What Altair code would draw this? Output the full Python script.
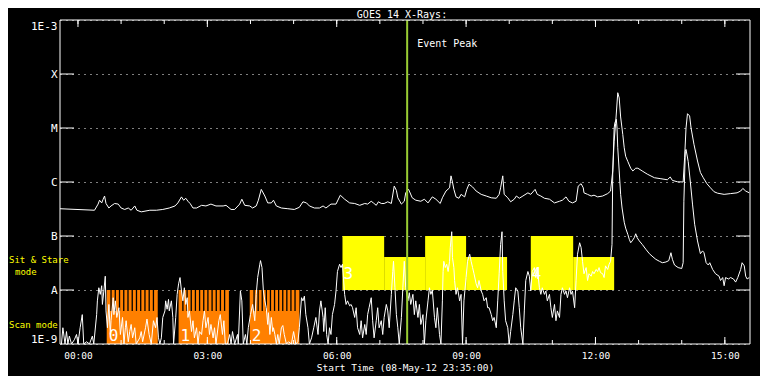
import altair as alt
import pandas as pd
import numpy as np

FONT = "DejaVu Sans Mono"
W, H = 690, 324
ORANGE = "#FF8000"
YELLOW = "#FFFF00"
GREEN = "#99CC33"

# ---- time in minutes from 2012-05-09 00:00 UT; flux in W/m^2 ----
long_t = [-25, 23, 28, 30, 33, 35, 37, 39, 43, 46, 51, 56, 60, 65, 70, 74, 79, 82, 88, 100,
          109, 118, 127, 135, 139, 144, 147, 150, 153, 156, 160, 165, 172, 178, 185, 192, 202, 206, 213, 218,
          225, 228, 232, 239, 243, 248, 251, 255, 260, 264, 269, 272, 276, 283, 292, 301, 308, 313, 318, 322,
          329, 336, 341, 345, 352, 359, 365, 371, 378, 385, 392, 399, 403, 408, 411, 415, 418, 422, 426, 431,
          436, 440, 443, 445, 450, 454, 456, 460, 461, 465, 470, 477, 482, 487, 493, 498, 504, 507, 512, 517,
          519, 521, 523, 526, 530, 533, 538, 541, 544, 549, 554, 561, 568, 575, 582, 586, 588, 591, 593, 598,
          602, 607, 610, 614, 619, 626, 630, 636, 639, 644, 649, 656, 663, 670, 674, 679, 683, 688, 693, 696,
          700, 703, 704, 709, 714, 718, 723, 730, 737, 741, 744, 746, 748, 751, 753, 755, 758, 760, 762, 765,
          769, 772, 776, 779, 785, 792, 802, 811, 820, 824, 827, 834, 842, 844, 846, 848, 851, 853, 857, 862,
          866, 870, 875, 880, 885, 890, 899, 908, 917, 922, 925, 929, 934]
long_flux = [3.2e-7, 3.0e-7, 3.9e-7, 4.6e-7, 4.1e-7, 4.8e-7, 5.5e-7, 4.0e-7, 3.3e-7, 3.6e-7,
             4.0e-7, 3.9e-7, 3.3e-7, 3.1e-7, 3.3e-7, 3.0e-7, 3.6e-7, 3.0e-7, 2.8e-7, 3.0e-7,
             3.0e-7, 3.1e-7, 3.3e-7, 3.6e-7, 4.1e-7, 5.3e-7, 4.6e-7, 5.0e-7, 4.4e-7, 4.0e-7,
             3.3e-7, 3.3e-7, 3.7e-7, 3.6e-7, 3.9e-7, 3.6e-7, 3.6e-7, 3.7e-7, 3.1e-7, 3.1e-7,
             3.9e-7, 4.8e-7, 3.7e-7, 3.6e-7, 3.3e-7, 3.6e-7, 4.6e-7, 7.3e-7, 5.5e-7, 4.1e-7,
             4.1e-7, 4.6e-7, 3.6e-7, 3.3e-7, 3.2e-7, 3.1e-7, 3.4e-7, 4.3e-7, 4.1e-7, 3.6e-7,
             3.3e-7, 3.3e-7, 3.6e-7, 3.3e-7, 3.9e-7, 3.9e-7, 5.7e-7, 4.8e-7, 4.1e-7, 4.0e-7,
             3.7e-7, 4.0e-7, 3.9e-7, 4.4e-7, 4.1e-7, 3.7e-7, 4.3e-7, 4.0e-7, 4.0e-7, 4.3e-7,
             4.0e-7, 8.4e-7, 7.0e-7, 5.1e-7, 3.9e-7, 4.4e-7, 6.3e-7, 7.3e-7, 6.8e-7, 5.1e-7,
             4.6e-7, 4.4e-7, 4.8e-7, 4.1e-7, 5.3e-7, 4.8e-7, 4.0e-7, 5.1e-7, 6.8e-7, 7.8e-7,
             1.3e-6, 1.0e-6, 7.3e-7, 5.3e-7, 5.0e-7, 5.9e-7, 5.3e-7, 7.3e-7, 9.1e-7, 8.1e-7,
             6.8e-7, 5.9e-7, 5.5e-7, 5.1e-7, 5.0e-7, 5.9e-7, 7.8e-7, 1.3e-6, 5.9e-7, 5.1e-7,
             4.3e-7, 4.8e-7, 5.5e-7, 5.0e-7, 5.5e-7, 6.3e-7, 5.9e-7, 7.3e-7, 5.9e-7, 5.5e-7,
             5.0e-7, 4.8e-7, 4.1e-7, 4.4e-7, 4.6e-7, 5.3e-7, 4.4e-7, 4.1e-7, 4.4e-7, 8.4e-7,
             9.3e-7, 7.8e-7, 6.3e-7, 5.9e-7, 5.5e-7, 5.7e-7, 5.3e-7, 5.5e-7, 6.1e-7, 6.8e-7,
             1.6e-6, 5.7e-6, 1.2e-5, 4.5e-5, 3.6e-5, 1.6e-5, 7.6e-6, 4.3e-6, 3.0e-6, 2.4e-6,
             1.8e-6, 1.6e-6, 1.8e-6, 1.8e-6, 1.6e-6, 1.4e-6, 1.2e-6, 1.15e-6, 1.1e-6, 1.24e-6,
             1.07e-6, 1.01e-6, 1.0e-6, 2.8e-6, 1.0e-5, 1.84e-5, 1.67e-5, 1.0e-5, 5.0e-6, 2.45e-6,
             1.5e-6, 1.2e-6, 9.3e-7, 7.8e-7, 6.6e-7, 6.2e-7, 5.9e-7, 6.1e-7, 6.3e-7, 6.8e-7,
             7.6e-7, 6.8e-7, 6.3e-7]

short_t = [-23, -21, -18, -16, -14, -12, -9, -5, -2, 0, 3, 6, 8, 12, 16, 20, 22, 26, 27, 29,
           31, 33, 34, 36, 38, 39, 41, 43, 45, 46, 49, 50, 52, 54, 57, 59, 62, 64, 66, 67,
           70, 72, 74, 76, 79, 81, 86, 88, 90, 94, 96, 99, 102, 105, 108, 110, 112, 114, 116, 118,
           121, 122, 124, 126, 127, 130, 132, 133, 136, 138, 140, 142, 144, 146, 148, 150, 152, 153, 155, 158,
           160, 162, 165, 167, 169, 172, 174, 176, 178, 181, 183, 185, 188, 190, 192, 196, 198, 201, 203, 205,
           208, 211, 213, 215, 218, 222, 223, 226, 228, 230, 233, 235, 237, 240, 243, 246, 248, 250, 253, 254,
           256, 258, 260, 262, 264, 265, 267, 269, 271, 272, 274, 276, 278, 280, 283, 285, 287, 290, 293, 297,
           300, 303, 306, 308, 311, 313, 315, 317, 320, 322, 325, 328, 331, 334, 336, 338, 341, 342, 344, 346,
           348, 350, 352, 354, 357, 359, 361, 364, 366, 368, 371, 373, 375, 378, 380, 382, 385, 387, 389, 392,
           394, 396, 399, 401, 403, 405, 408, 410, 412, 415, 417, 419, 422, 424, 426, 429, 431, 433, 436, 438,
           439, 441, 443, 445, 447, 450, 452, 454, 456, 459, 461, 463, 466, 468, 470, 473, 475, 477, 480, 482,
           484, 487, 489, 491, 493, 496, 498, 500, 503, 505, 507, 508, 509, 511, 513, 515, 517, 518, 520, 521,
           523, 524, 526, 528, 531, 533, 535, 537, 540, 542, 545, 547, 549, 551, 554, 556, 558, 561, 563, 565,
           568, 570, 572, 575, 577, 579, 582, 584, 586, 588, 590, 591, 593, 595, 598, 600, 602, 605, 607, 609,
           612, 614, 616, 619, 621, 623, 626, 628, 630, 632, 635, 637, 639, 642, 644, 646, 649, 651, 653, 656,
           658, 660, 663, 665, 667, 670, 672, 674, 677, 679, 681, 684, 686, 688, 691, 693, 695, 698, 700, 702,
           704, 707, 709, 711, 714, 716, 718, 721, 723, 725, 727, 730, 732, 734, 737, 739, 741, 743, 744, 746,
           747, 749, 750, 751, 753, 755, 757, 760, 762, 765, 767, 769, 771, 774, 776, 778, 781, 785, 790, 795,
           800, 804, 809, 813, 818, 822, 825, 827, 830, 835, 840, 842, 843, 845, 846, 849, 852, 855, 858, 862,
           866, 869, 871, 874, 877, 879, 883, 887, 892, 894, 897, 899, 901, 905, 908, 912, 915, 918, 922, 924,
           927, 929, 931, 934]
short_flux = [1.0e-9, 2.0e-9, 1.0e-9, 1.7e-9, 1.0e-9, 1.4e-9, 1.0e-9, 1.2e-9, 1.5e-9, 1.0e-9,
              2.0e-9, 3.5e-9, 1.0e-9, 1.1e-9, 1.0e-9, 1.4e-9, 1.0e-9, 3.5e-9, 6.3e-9, 1.1e-8,
              8.3e-9, 1.2e-8, 5.4e-9, 9.6e-9, 1.8e-8, 4.1e-9, 2.0e-9, 5.4e-9, 1.5e-9, 2.7e-9,
              7.2e-9, 3.5e-9, 6.3e-9, 3.1e-9, 4.7e-9, 1.5e-9, 3.1e-9, 1.0e-9, 2.0e-9, 2.7e-9,
              1.1e-9, 1.7e-9, 2.3e-9, 1.3e-9, 2.0e-9, 1.0e-9, 1.3e-9, 1.7e-9, 1.1e-9, 2.0e-9,
              2.9e-9, 1.5e-9, 1.0e-9, 2.7e-9, 2.0e-9, 3.1e-9, 1.3e-9, 1.0e-9, 1.3e-9, 3.1e-9,
              4.1e-9, 6.3e-9, 4.4e-9, 6.7e-9, 4.1e-9, 6.3e-9, 3.1e-9, 1.0e-9, 3.1e-9, 8.3e-9,
              1.3e-8, 1.7e-8, 9.6e-9, 6.3e-9, 1.1e-8, 5.4e-9, 7.2e-9, 3.1e-9, 4.1e-9, 1.7e-9,
              2.7e-9, 1.3e-9, 2.0e-9, 1.0e-9, 1.7e-9, 1.5e-9, 2.7e-9, 4.1e-9, 2.0e-9, 3.1e-9,
              1.5e-9, 2.3e-9, 1.3e-9, 2.0e-9, 1.0e-9, 2.7e-9, 3.5e-9, 1.5e-9, 2.7e-9, 1.0e-9,
              1.0e-9, 1.5e-9, 1.0e-9, 1.7e-9, 1.0e-9, 1.5e-9, 1.0e-9, 9.6e-9, 6.3e-9, 1.0e-9,
              1.5e-9, 1.0e-9, 2.0e-9, 3.5e-9, 5.4e-9, 2.7e-9, 8.3e-9, 1.7e-8, 3.0e-8, 3.5e-8,
              2.6e-8, 9.6e-9, 6.3e-9, 4.7e-9, 2.3e-9, 3.8e-9, 1.5e-9, 3.1e-9, 1.7e-9, 2.0e-9,
              1.5e-9, 1.0e-9, 1.5e-9, 1.0e-9, 2.0e-9, 2.2e-9, 1.5e-9, 1.0e-9, 1.1e-9, 1.0e-9,
              1.7e-9, 1.0e-9, 1.1e-9, 2.0e-9, 7.2e-9, 6.3e-9, 7.7e-9, 3.5e-9, 2.0e-9, 1.0e-9,
              1.3e-9, 2.0e-9, 3.1e-9, 1.5e-9, 4.1e-9, 6.3e-9, 3.1e-9, 1.7e-9, 4.7e-9, 1.5e-9,
              1.0e-9, 2.0e-9, 1.5e-9, 3.5e-9, 5.4e-9, 9.6e-9, 2.2e-8, 3.0e-8, 2.6e-8, 3.0e-8,
              8.3e-9, 5.4e-9, 6.3e-9, 5.1e-9, 5.4e-9, 4.7e-9, 3.1e-9, 4.7e-9, 2.0e-9, 1.5e-9,
              2.7e-9, 1.3e-9, 2.3e-9, 1.5e-9, 3.5e-9, 4.7e-9, 7.2e-9, 2.7e-9, 1.3e-9, 2.7e-9,
              4.7e-9, 2.0e-9, 2.7e-9, 1.5e-9, 3.1e-9, 5.4e-9, 4.1e-9, 2.0e-9, 8.3e-9, 2.2e-8,
              3.4e-8, 1.1e-8, 3.5e-9, 2.0e-9, 1.0e-9, 3.1e-9, 1.1e-8, 3.4e-8, 1.1e-8, 6.3e-9,
              8.9e-9, 5.4e-9, 8.3e-9, 3.5e-9, 6.3e-9, 3.1e-9, 5.4e-9, 2.3e-9, 3.5e-9, 1.0e-9,
              2.7e-9, 6.3e-9, 1.1e-8, 8.3e-9, 1.0e-8, 3.1e-9, 2.0e-9, 4.7e-9, 1.5e-9, 1.0e-9,
              6.3e-9, 2.2e-8, 3.4e-8, 2.6e-8, 3.0e-8, 2.2e-8, 3.4e-8, 6.1e-8, 1.2e-7, 4.0e-8,
              2.6e-8, 1.5e-8, 8.3e-9, 1.1e-8, 6.3e-9, 8.3e-9, 1.0e-9, 6.3e-9, 1.7e-8, 3.4e-8,
              4.6e-8, 3.4e-8, 2.6e-8, 2.0e-8, 1.3e-8, 1.1e-8, 1.5e-8, 9.6e-9, 8.3e-9, 6.3e-9,
              7.2e-9, 4.7e-9, 4.7e-9, 3.5e-9, 2.7e-9, 3.1e-9, 2.0e-9, 6.3e-9, 2.0e-8, 7.0e-8,
              1.2e-7, 2.2e-8, 6.3e-9, 2.7e-9, 2.0e-9, 1.0e-9, 1.7e-9, 3.5e-9, 6.3e-9, 1.1e-8,
              9.6e-9, 4.7e-9, 2.0e-9, 1.0e-9, 4.1e-9, 1.5e-8, 2.2e-8, 1.8e-8, 9.6e-9, 2.2e-8,
              2.6e-8, 1.7e-8, 2.6e-8, 1.1e-8, 8.3e-9, 1.1e-8, 8.3e-9, 9.6e-9, 6.3e-9, 8.3e-9,
              4.7e-9, 3.1e-9, 5.4e-9, 2.7e-9, 4.1e-9, 3.1e-9, 8.3e-9, 1.1e-8, 8.3e-9, 9.6e-9,
              7.2e-9, 1.1e-8, 8.3e-9, 9.6e-9, 4.7e-9, 1.5e-8, 4.6e-8, 7.5e-8, 6.1e-8, 3.4e-8,
              2.0e-8, 2.6e-8, 1.5e-8, 2.0e-8, 1.8e-8, 2.2e-8, 2.0e-8, 2.4e-8, 2.2e-8, 2.6e-8,
              2.1e-8, 2.0e-8, 1.7e-8, 2.8e-8, 2.4e-8, 3.0e-8, 3.4e-8, 7.0e-8, 1.4e-6, 1.0e-5,
              1.25e-5, 1.45e-5, 1.0e-5, 4.3e-6, 1.6e-6, 5.9e-7, 3.3e-7, 1.8e-7, 1.4e-7, 1.07e-7,
              8.7e-8, 7.5e-8, 8.1e-8, 9.3e-8, 1.1e-7, 9.3e-8, 8.1e-8, 7.0e-8, 5.7e-8, 4.7e-8,
              4.1e-8, 3.7e-8, 3.4e-8, 3.2e-8, 3.3e-8, 3.5e-8, 4.9e-8, 3.7e-8, 2.9e-8, 2.6e-8,
              2.5e-8, 3.2e-8, 4.4e-7, 3.7e-6, 4.0e-6, 2.4e-6, 1.0e-6, 3.9e-7, 1.65e-7, 8.1e-8,
              4.7e-8, 5.3e-8, 4.9e-8, 3.2e-8, 2.9e-8, 3.2e-8, 2.4e-8, 2.0e-8, 1.8e-8, 1.5e-8,
              1.7e-8, 1.2e-8, 1.7e-8, 1.6e-8, 1.7e-8, 1.6e-8, 1.4e-8, 1.7e-8, 2.4e-8, 3.2e-8,
              2.8e-8, 1.8e-8, 1.6e-8, 1.7e-8]

# ---- observing modes ----
scan_start = [40, 140, 239]
scan_end = [111, 210, 308]
scan_id = ["0", "1", "2"]
scan_floor, scan_mid, scan_top = 1e-9, 4.1e-9, 1e-8

stare_start = [368, 426, 483, 540, 630, 689]
stare_end = [426, 483, 540, 597, 689, 746]
stare_top = [1e-7, 4.1e-8, 1e-7, 4.1e-8, 1e-7, 4.1e-8]
stare_floor = 1e-8
stare_label_t = [368, 630]
stare_id = ["3", "4"]

event_peak_t = [458]

hour_ticks = [0, 60, 120, 180, 240, 300, 360, 420, 480, 540, 600, 660, 720, 780, 840, 900]
major_ticks = [0, 180, 360, 540, 720, 900]
decade_values = [1e-9, 1e-8, 1e-7, 1e-6, 1e-5, 1e-4, 1e-3]
class_ticks = [1e-8, 1e-7, 1e-6, 1e-5, 1e-4]

# ---- scales & axes ----
x_scale = alt.Scale(domain=[-25, 935], nice=False, zero=False)
y_scale = alt.Scale(type="log", domain=[1e-9, 1e-3], nice=False)

x_axis = alt.Axis(values=major_ticks,
                  labelExpr="(datum.value < 600 ? '0' : '') + floor(datum.value/60) + ':00'",
                  ticks=False, domain=False, grid=False,
                  labelColor="white", labelFont=FONT, labelFontSize=9.5, labelPadding=6,
                  title="Start Time (08-May-12 23:35:00)", titleColor="white", titleFont=FONT,
                  titleFontSize=9.5, titleFontWeight="normal", titlePadding=3)
y_axis = alt.Axis(values=decade_values,
                  labelExpr=("datum.value < 5e-9 ? '1E-9' : datum.value < 5e-8 ? 'A' : "
                             "datum.value < 5e-7 ? 'B' : datum.value < 5e-6 ? 'C' : "
                             "datum.value < 5e-5 ? 'M' : datum.value < 5e-4 ? 'X' : '1E-3'"),
                  ticks=False, domain=False, grid=True, gridColor="white", gridDash=[1, 5],
                  gridWidth=1, gridOpacity=1, labelFlush=True,
                  labelColor="white", labelFont=FONT, labelFontSize=11, labelPadding=3, title=None)


def X(f="t"):
    return alt.X(f"{f}:Q", scale=x_scale, axis=x_axis)


def Y(f="v"):
    return alt.Y(f"{f}:Q", scale=y_scale, axis=y_axis)


one = alt.Data(values=[{}])

long_df = pd.DataFrame({"t": long_t, "v": long_flux})
short_df = pd.DataFrame({"t": short_t, "v": short_flux})
scan_df = pd.DataFrame({"t": scan_start, "t2": scan_end, "v": scan_floor, "v2": scan_top})
stripe_t = np.concatenate([np.linspace(s + 6, e - 6, 11) for s, e in zip(scan_start, scan_end)])
stripe_df = pd.DataFrame({"t": stripe_t, "v": scan_mid, "v2": scan_top})
scan_lab_df = pd.DataFrame({"t": scan_start, "v": scan_floor, "lab": scan_id})
stare_df = pd.DataFrame({"t": stare_start, "t2": stare_end, "v": stare_floor, "v2": stare_top})
stare_lab_df = pd.DataFrame({"t": stare_label_t, "v": stare_floor, "lab": stare_id})
event_df = pd.DataFrame({"t": event_peak_t})

scan_rect = alt.Chart(scan_df).mark_rect(color=ORANGE).encode(x=X(), x2="t2:Q", y=Y(), y2="v2:Q")
stripes = alt.Chart(stripe_df).mark_rule(color="black", strokeWidth=1.3).encode(x=X(), y=Y(), y2="v2:Q")
stare_rect = alt.Chart(stare_df).mark_rect(color=YELLOW).encode(x=X(), x2="t2:Q", y=Y(), y2="v2:Q")

short_line = alt.Chart(short_df).mark_line(color="white", strokeWidth=1).encode(x=X(), y=Y())
long_line = alt.Chart(long_df).mark_line(color="white", strokeWidth=1).encode(x=X(), y=Y())

scan_lab = alt.Chart(scan_lab_df).mark_text(color="white", font=FONT, fontSize=16, align="left",
                                            baseline="alphabetic", dx=2, dy=-3, fontWeight="lighter").encode(
    x=X(), y=Y(), text="lab:N")
stare_lab = alt.Chart(stare_lab_df).mark_text(color="white", font=FONT, fontSize=16, align="left",
                                              baseline="alphabetic", dx=1, dy=-11, fontWeight="lighter").encode(
    x=X(), y=Y(), text="lab:N")

event_rule = alt.Chart(event_df).mark_rule(color=GREEN, strokeWidth=2).encode(
    x=X(), y=alt.value(0), y2=alt.value(H))
event_text = alt.Chart(event_df).mark_text(text="Event Peak", color="white", font=FONT, fontSize=10,
                                           align="left", baseline="alphabetic", dx=10).encode(
    x=X(), y=alt.value(27))

hour_df = pd.DataFrame({"t": hour_ticks})
major_df = pd.DataFrame({"t": major_ticks})
class_df = pd.DataFrame({"v": class_ticks})
tick_top_minor = alt.Chart(hour_df).mark_rule(color="white").encode(x=X(), y=alt.value(0), y2=alt.value(4))
tick_top_major = alt.Chart(major_df).mark_rule(color="white").encode(x=X(), y=alt.value(0), y2=alt.value(7))
tick_bot_minor = alt.Chart(hour_df).mark_rule(color="white").encode(x=X(), y=alt.value(H), y2=alt.value(H - 4))
tick_bot_major = alt.Chart(major_df).mark_rule(color="white").encode(x=X(), y=alt.value(H), y2=alt.value(H - 7))
tick_left = alt.Chart(class_df).mark_rule(color="white").encode(y=Y(), x=alt.value(0), x2=alt.value(14))
tick_right = alt.Chart(class_df).mark_rule(color="white").encode(y=Y(), x=alt.value(W - 14), x2=alt.value(W))

frame = alt.Chart(one).mark_rect(filled=False, stroke="white", strokeWidth=1).encode(
    x=alt.value(0), x2=alt.value(W), y=alt.value(0), y2=alt.value(H))

title_txt = alt.Chart(one).mark_text(text="GOES 14 X-Rays:", color="white", font=FONT, fontSize=10,
                                     align="center", baseline="alphabetic").encode(
    x=alt.value(342), y=alt.value(-2.5))

txt_style = dict(color=YELLOW, font=FONT, fontSize=9, align="left", baseline="alphabetic")
sit_txt = alt.Chart(one).mark_text(text="Sit & Stare", **txt_style).encode(x=alt.value(-51), y=alt.value(243))
mode_txt = alt.Chart(one).mark_text(text="mode", **txt_style).encode(x=alt.value(-45), y=alt.value(255))
scan_txt = alt.Chart(one).mark_text(text="Scan mode", **txt_style).encode(x=alt.value(-51), y=alt.value(308))

chart = alt.layer(
    scan_rect, stripes, stare_rect, short_line, long_line, scan_lab, stare_lab,
    event_rule, event_text,
    tick_top_minor, tick_top_major, tick_bot_minor, tick_bot_major, tick_left, tick_right,
    frame, title_txt, sit_txt, mode_txt, scan_txt,
).properties(
    width=W, height=H,
    padding={"left": 52, "top": 12, "right": 10, "bottom": 32},
    autosize=alt.AutoSizeParams(type="none"),
).configure(background="black").configure_view(stroke=None)

chart.save("out.html", embed_options={"renderer": "svg", "actions": False})
